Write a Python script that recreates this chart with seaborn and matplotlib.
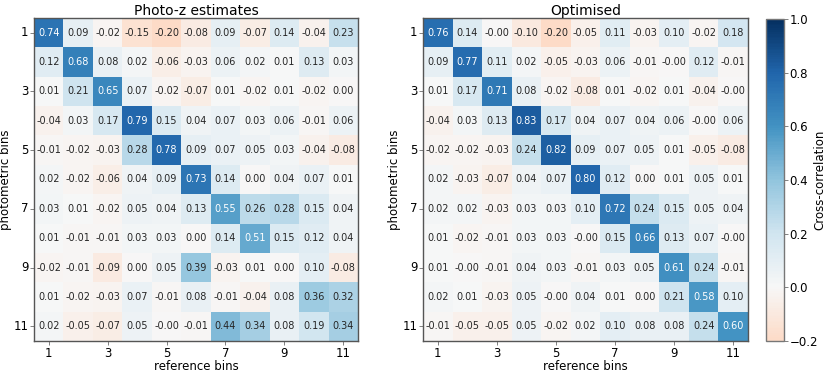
import numpy as np
import matplotlib
matplotlib.use("Agg")
import matplotlib.pyplot as plt
import seaborn as sns

# bin labels
bins = list(range(1, 12))
tick_labels = ["1", "", "3", "", "5", "", "7", "", "9", "", "11"]

# cross-correlation, photo-z estimates (rows: photometric bins, cols: reference bins)
photoz_corr = [
    [0.74, 0.09, -0.02, -0.15, -0.20, -0.08, 0.09, -0.07, 0.14, -0.04, 0.23],
    [0.12, 0.68, 0.08, 0.02, -0.06, -0.03, 0.06, 0.02, 0.01, 0.13, 0.03],
    [0.01, 0.21, 0.65, 0.07, -0.02, -0.07, 0.01, -0.02, 0.01, -0.02, 0.00],
    [-0.04, 0.03, 0.17, 0.79, 0.15, 0.04, 0.07, 0.03, 0.06, -0.01, 0.06],
    [-0.01, -0.02, -0.03, 0.28, 0.78, 0.09, 0.07, 0.05, 0.03, -0.04, -0.08],
    [0.02, -0.02, -0.06, 0.04, 0.09, 0.73, 0.14, 0.00, 0.04, 0.07, 0.01],
    [0.03, 0.01, -0.02, 0.05, 0.04, 0.13, 0.55, 0.26, 0.28, 0.15, 0.04],
    [0.01, -0.01, -0.01, 0.03, 0.03, 0.00, 0.14, 0.51, 0.15, 0.12, 0.04],
    [-0.02, -0.01, -0.09, 0.00, 0.05, 0.39, -0.03, 0.01, 0.00, 0.10, -0.08],
    [0.01, -0.02, -0.03, 0.07, -0.01, 0.08, -0.01, -0.04, 0.08, 0.36, 0.32],
    [0.02, -0.05, -0.07, 0.05, -0.001, -0.01, 0.44, 0.34, 0.08, 0.19, 0.34],
]

# cross-correlation, optimised
optimised_corr = [
    [0.76, 0.14, -0.001, -0.10, -0.20, -0.05, 0.11, -0.03, 0.10, -0.02, 0.18],
    [0.09, 0.77, 0.11, 0.02, -0.05, -0.03, 0.06, -0.01, -0.001, 0.12, -0.01],
    [0.01, 0.17, 0.71, 0.08, -0.02, -0.08, 0.01, -0.02, 0.01, -0.04, -0.001],
    [-0.04, 0.03, 0.13, 0.83, 0.17, 0.04, 0.07, 0.04, 0.06, -0.001, 0.06],
    [-0.02, -0.02, -0.03, 0.24, 0.82, 0.09, 0.07, 0.05, 0.01, -0.05, -0.08],
    [0.02, -0.03, -0.07, 0.04, 0.07, 0.80, 0.12, 0.00, 0.01, 0.05, 0.01],
    [0.02, 0.02, -0.03, 0.03, 0.03, 0.10, 0.72, 0.24, 0.15, 0.05, 0.04],
    [0.01, -0.02, -0.01, 0.03, 0.03, -0.001, 0.15, 0.66, 0.13, 0.07, -0.001],
    [0.01, -0.001, -0.01, 0.04, 0.03, -0.01, 0.03, 0.05, 0.61, 0.24, -0.01],
    [0.02, 0.01, -0.03, 0.05, -0.001, 0.04, 0.01, 0.00, 0.21, 0.58, 0.10],
    [-0.01, -0.05, -0.05, 0.05, -0.02, 0.02, 0.10, 0.08, 0.08, 0.24, 0.60],
]

W, H = 831, 373
fig = plt.figure(figsize=(W / 100, H / 100), dpi=100)

def frac(x, y, w, h):
    return [x / W, (H - y - h) / H, w / W, h / H]

ax1 = fig.add_axes(frac(34, 18, 324, 323))
ax2 = fig.add_axes(frac(423, 18, 325, 323))
cax = fig.add_axes(frac(766, 19, 18, 322))

panels = [(ax1, photoz_corr, "Photo-z estimates"), (ax2, optimised_corr, "Optimised")]
for i, (ax, mat, title) in enumerate(panels):
    sns.heatmap(np.array(mat), ax=ax, cmap="RdBu", center=0, vmin=-0.2, vmax=1.0,
                annot=True, fmt=".2f", annot_kws={"fontsize": 7},
                xticklabels=tick_labels, yticklabels=tick_labels,
                cbar=(i == 1), cbar_ax=cax if i == 1 else None,
                square=False)
    ax.set_title(title, fontsize=10, pad=2)
    ax.set_xlabel("reference bins", fontsize=8.5, labelpad=0)
    ax.set_ylabel("photometric bins", fontsize=8.5, labelpad=1)
    idx = [k + 0.5 for k in range(0, 11, 2)]
    ax.set_xticks(idx)
    ax.set_xticklabels([str(b) for b in bins[::2]], rotation=0, fontsize=8.5)
    ax.set_yticks(idx)
    ax.set_yticklabels([str(b) for b in bins[::2]], rotation=0, fontsize=8.5)
    ax.tick_params(length=3, width=0.7, color="gray", pad=1)
    for s in ax.spines.values():
        s.set_visible(True)
        s.set_color("#555555")
        s.set_linewidth(1.0)

cbar = ax2.collections[0].colorbar
cbar.set_ticks([-0.2, 0.0, 0.2, 0.4, 0.6, 0.8, 1.0])
cbar.ax.tick_params(labelsize=8.5, length=3, width=0.7, color="gray", pad=1)
cbar.set_label("Cross-correlation", fontsize=8.5)
# place the colourbar label where the reference has it
cbar.ax.yaxis.label.set_verticalalignment("center")
cbar.ax.yaxis.set_label_coords(3.0, 0.5)
cbar.outline.set_visible(True)
cbar.outline.set_edgecolor("#777777")
cbar.outline.set_linewidth(1.0)

fig.savefig("out.png", dpi=100)
